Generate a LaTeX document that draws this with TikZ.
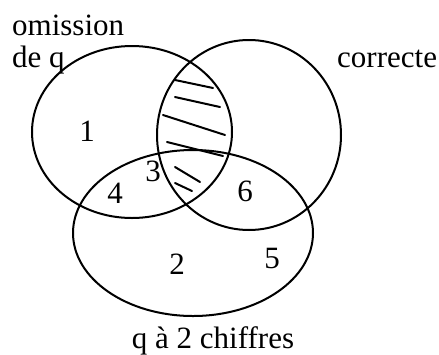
\documentclass[tikz,border=0pt]{standalone}
\usepackage{fontspec}
\setmainfont{Liberation Serif}
\begin{document}
\begin{tikzpicture}[x=1pt,y=-1pt,
  lbl/.style={inner sep=0pt,font=\fontsize{31}{36}\selectfont},
  ring/.style={line width=2pt},
  hatch/.style={line width=2pt,line cap=round}]
\useasboundingbox (0,0) rectangle (439,354);
\draw[ring] (132,132) ellipse [x radius=100, y radius=86];
\draw[ring] (249,135) ellipse [x radius=92, y radius=95];
\draw[ring] (193,233) ellipse [x radius=120, y radius=83];
\draw[hatch] (175,80) -- (213,88);
\draw[hatch] (175,97) -- (220,107);
\draw[hatch] (163,115) -- (225,135);
\draw[hatch] (167,142) -- (223,156);
\draw[hatch] (175,167) -- (200,182);
\draw[hatch] (175,183) -- (192,191);
\node[lbl,anchor=base west] (om) at (12,35) {omission};
\node[lbl,anchor=base west] (de) at (12,67) {de q};
\node[lbl,anchor=base west] (co) at (337,67) {correcte};
\node[lbl,anchor=base] (qc) at (213,348) {q à 2 chiffres};
\node[lbl] (n1) at (87,131) {1};
\node[lbl] (n3) at (153,171) {3};
\node[lbl] (n4) at (115,193) {4};
\node[lbl] (n6) at (245,191) {6};
\node[lbl] (n2) at (177,264) {2};
\node[lbl] (n5) at (272,258) {5};
\end{tikzpicture}
\end{document}
